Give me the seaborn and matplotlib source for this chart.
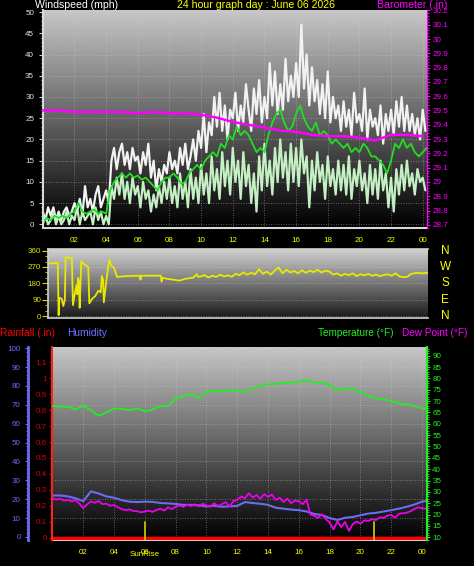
import numpy as np
import seaborn as sns
import matplotlib.pyplot as plt
from matplotlib.ticker import MultipleLocator, FormatStrFormatter

sns.set_style("ticks", {"axes.facecolor": "black", "figure.facecolor": "black"})
plt.rcParams['font.family'] = ['Liberation Sans', 'DejaVu Sans']

# ---------------- data ----------------
hour_labels = ['02', '04', '06', '08', '10', '12', '14', '16', '18', '20', '22', '00']
hour_ticks = [2, 4, 6, 8, 10, 12, 14, 16, 18, 20, 22, 24]

# wind gust (mph), every 10 min
gust = [3, 1, 4, 2, 4, 1,  3, 1, 3, 4, 2, 3,  5, 3, 6, 2, 9, 4,  6, 3, 7, 9, 4, 6,
        8, 5, 15, 18, 13, 17,  19, 14, 17, 13, 18, 15,  16, 12, 17, 14, 19, 11,
        15, 8, 13, 10, 14, 12,  17, 13, 15, 12, 18, 14,  19, 13, 16, 20, 15, 22,
        18, 26, 17, 24, 21, 30,  23, 31, 22, 28, 20, 27,  25, 31, 22, 28, 24, 33,
        27, 22, 32, 26, 34, 24,  30, 25, 38, 28, 36, 26,  33, 27, 39, 29, 35, 30,
        38, 30, 47, 32, 40, 28,  37, 29, 34, 26, 33, 25,  36, 24, 30, 25, 28, 22,
        29, 23, 27, 21, 31, 24,  26, 22, 32, 20, 27, 23,  25, 21, 28, 19, 26, 22,
        27, 21, 29, 23, 30, 22,  28, 22, 26, 21, 25, 20,  27, 22]

# wind speed (mph), every 10 min
speed = [0, 2, 0, 1, 3, 0,  2, 0, 1, 3, 0, 2,  1, 4, 0, 3, 1, 2,  3, 0, 4, 1, 3, 0,
         2, 0, 9, 6, 11, 7,  12, 6, 10, 5, 11, 7,  9, 4, 10, 6, 8, 3,
         7, 4, 9, 5, 10, 6,  11, 5, 9, 4, 12, 6,  10, 4, 13, 6, 11, 5,
         14, 7, 12, 5, 16, 8,  13, 6, 17, 9, 15, 7,  18, 10, 15, 6, 17, 9,
         14, 5, 12, 3, 16, 8,  19, 9, 15, 7, 18, 10,  20, 11, 17, 8, 19, 10,
         18, 9, 20, 12, 16, 4,  15, 8, 17, 10, 14, 6,  16, 9, 13, 7, 15, 8,
         14, 7, 16, 6, 13, 9,  15, 8, 12, 5, 14, 7,  13, 6, 15, 8, 12, 4,
         11, 3, 13, 7, 14, 8,  15, 9, 12, 7, 13, 10,  11, 8]

# average wind speed (mph), every 15 min
avg_speed = [0.5, 1.5, 1, 2,  1.5, 2, 1.5, 2.5,  3, 5, 3, 2.5,  3, 3.5, 2.5, 3,
             2.5, 8, 10, 11,  12, 11, 12, 11,  11.5, 10.5, 11, 10,  9, 8, 10, 11,
             11, 12, 11, 9.5,  10, 12, 13, 14,  13, 15, 16, 17,  16, 19, 18, 21,
             20, 23, 21, 22,  21, 19, 17, 18,  17, 21, 24, 26,  27, 24, 22, 23,
             26, 28, 25, 23,  22, 24, 21, 22,  21, 19, 20, 19,  18, 19, 17, 18,
             17, 19, 18, 16,  16, 15, 14, 12,  15, 19, 18, 20,  18, 19, 17, 16,  17, 18]

# barometer (in), hourly
baro = [29.50, 29.50, 29.49, 29.49, 29.49, 29.49, 29.48, 29.49, 29.48, 29.48,
        29.47, 29.45, 29.42, 29.40, 29.38, 29.36, 29.35, 29.33, 29.32, 29.32,
        29.31, 29.29, 29.33, 29.33, 29.32]

# wind direction (deg)
dir_hours = [0.0, 0.6, 0.65, 0.7, 0.85, 0.95, 1.05, 1.1, 1.5, 1.57, 1.7, 1.8, 1.85,
             1.9, 1.95, 2.0, 2.1, 2.3, 2.55, 2.62, 2.8, 3.0, 3.2, 3.35, 3.42, 3.5,
             3.55, 3.7, 3.9, 4.05, 4.2, 4.4, 5.0, 5.85, 5.9, 5.95, 7.2, 7.25, 7.3,
             7.6, 8.0, 8.4, 8.8, 9.3, 9.5, 9.6,
             9.75, 10.0, 10.25, 10.5, 10.75, 11.0, 11.25, 11.5, 11.75, 12.0, 12.25,
             12.5, 12.75, 13.0, 13.25, 13.5, 13.75, 14.0, 14.25, 14.5, 14.75, 15.0,
             15.25, 15.5, 15.75, 16.0, 16.25, 16.5, 16.75, 17.0, 17.25, 17.5, 17.75,
             18.0, 18.25, 18.5, 18.75, 19.0, 19.25, 19.5, 19.75, 20.0, 20.25, 20.5,
             20.75, 21.0, 21.25, 21.5, 21.75, 22.0, 22.25, 22.5, 22.75, 23.0, 23.25,
             23.5, 23.75, 24.0, 24.3]
dir_deg = [290, 292, 5, 100, 95, 55, 90, 325, 318, 60, 130, 170, 120,
           210, 190, 45, 300, 285, 270, 70, 95, 110, 140, 130, 220, 200,
           75, 190, 310, 275, 265, 215, 220, 222, 200, 222, 222, 190, 210,
           205, 200, 195, 205, 212, 230, 215,
           218, 225, 212, 222, 215, 228, 218, 224, 216, 232, 225,
           240, 228, 238, 230, 258, 232, 245, 228, 250, 268, 235,
           255, 240, 248, 236, 252, 238, 250, 242, 255, 240, 250,
           245, 228, 235, 222, 232, 225, 235, 220, 230, 224, 232,
           222, 228, 220, 226, 230, 222, 235, 218, 214, 216, 232,
           236, 238, 235, 238]
compass = ['N', 'W', 'S', 'E', 'N']
compass_deg = [360, 270, 180, 90, 0]

# temperature (F) and humidity (%), every 30 min
temp = [67.8, 67.5, 67.5, 66.4, 68.0, 66.0, 63.5, 65.0, 66.8, 66.5,
        66.0, 66.8, 65.5, 66.3, 67.8, 68.0, 71.0, 72.5, 73.0, 71.5,
        74.0, 74.2, 74.5, 74.8, 74.5, 74.0, 75.5, 76.5, 77.5, 77.6,
        78.0, 78.2, 78.5, 79.2, 78.3, 78.0, 77.2, 74.6, 75.6, 75.3,
        73.8, 72.3, 71.2, 70.7, 70.0, 69.0, 68.5, 67.8, 66.9, 66.5]
humidity = [22, 22, 21.5, 20.5, 19, 24.2, 23.0, 21.5, 20.8, 19.5,
            18.7, 18.5, 18.7, 18.6, 18.0, 17.8, 17.5, 17.0, 17.0, 16.8,
            16.2, 16.5, 16.0, 16.2, 16.5, 18.5, 18.0, 17.6, 17.0, 15.5,
            15.0, 14.5, 14.2, 13.5, 12.2, 11.6, 10.0, 9.0, 10.2, 10.6,
            11.5, 12.4, 12.8, 13.5, 14.2, 15.0, 16.0, 17.2, 18.7, 19.5]

# dew point (F), every 15 min
dew = [27.2, 26.6, 27.0, 26.2,  26.5, 25.8, 26.4, 24.8,  22.8, 24.5, 25.8, 25.2,
       26.0, 24.6, 24.8, 23.9,  24.2, 23.2, 22.4, 22.0,  22.3, 21.6, 21.5, 21.0,
       21.4, 21.7, 21.2, 22.0,  22.6, 21.8, 23.2, 22.4,  23.5, 24.0, 23.4, 24.3,
       23.8, 24.5, 23.6, 24.8,  24.0, 23.5, 25.0, 23.8,  24.6, 25.5, 23.6, 26.0,
       26.5, 28.0, 27.2, 29.4,  27.5, 28.6, 27.0, 29.0,  27.8, 28.8, 26.4, 27.5,
       25.5, 27.0, 25.0, 26.2,  25.8, 24.6, 26.5, 20.0,  19.5, 18.5, 20.2, 18.0,
       16.5, 13.5, 17.0, 14.5,  16.8, 12.8, 15.8, 17.0,  16.0, 17.5, 17.2, 18.0,
       17.6, 18.8, 18.5, 19.6,  19.8, 18.6, 20.4, 20.6,  20.8, 21.5, 22.5, 23.2,
       22.8, 22.6]

# rainfall (in)
rain_hours = [0, 24.3]
rain = [0.0, 0.0]

sunrise = 6.0
sunset = 20.9

# sample times
t10 = np.arange(len(gust)) / 6
t15 = np.arange(len(avg_speed)) / 4
t60 = np.arange(len(baro))
t30 = np.arange(len(temp)) / 2
t15d = np.arange(len(dew)) / 4

W, H = 474, 566
fig = plt.figure(figsize=(W / 100, H / 100), dpi=100, facecolor='black')


def shade(ax, top, bottom):
    # grey gradient background of each panel
    grad = np.linspace(top, bottom, 256).reshape(-1, 1)
    ax.imshow(grad, extent=[0, 1, 0, 1], transform=ax.transAxes, aspect='auto',
              cmap='gray', vmin=0, vmax=1, zorder=0, interpolation='bilinear')


def only_spines(ax, keep):
    for name, sp in ax.spines.items():
        sp.set_visible(name in keep)


grid_kw = dict(color='#d0d0d0', linestyle=(0, (1, 2)), linewidth=0.6, alpha=0.55)
tick_size = 5.8

# ---------------- wind speed / barometer ----------------
ax1 = fig.add_axes([42.5 / W, 1 - 227.7 / H, 384.5 / W, 217.7 / H])
shade(ax1, 0.78, 0.0)
sns.lineplot(x=t10, y=gust, ax=ax1, color='#f2f2f2', linewidth=1.6, estimator=None)
sns.lineplot(x=t10, y=speed, ax=ax1, color='#c4f0c4', linewidth=1.6, estimator=None)
sns.lineplot(x=t15, y=avg_speed, ax=ax1, color='#22dd22', linewidth=1.3, estimator=None)
ax1.set_xlim(-0.02, 24.27)
ax1.set_ylim(-0.8, 50.5)
ax1.set_xticks(hour_ticks)
ax1.set_xticklabels(hour_labels)
ax1.yaxis.set_major_locator(MultipleLocator(5))
ax1.yaxis.set_minor_locator(MultipleLocator(1))
ax1.tick_params(axis='x', length=0, pad=6.5, labelcolor='#ffff00', labelsize=tick_size)
ax1.tick_params(axis='y', which='major', length=3, pad=3, color='#d0d0d0',
                labelcolor='#dde6ff', labelsize=tick_size)
ax1.tick_params(axis='y', which='minor', length=1.8, color='#d0d0d0')
ax1.grid(True, **grid_kw)
ax1.set_xlabel('')
ax1.set_ylabel('')
only_spines(ax1, ['left', 'bottom'])
for s in ['left', 'bottom']:
    ax1.spines[s].set_color('#d8d8d8')
    ax1.spines[s].set_linewidth(1.5)

ax1b = ax1.twinx()
sns.lineplot(x=t60, y=baro, ax=ax1b, color='#ff00ff', linewidth=1.8)
ax1b.set_ylim(28.68, 30.203)
ax1b.yaxis.set_major_locator(MultipleLocator(0.1))
ax1b.yaxis.set_minor_locator(MultipleLocator(0.02))
ax1b.yaxis.set_major_formatter(FormatStrFormatter('%g'))
ax1b.tick_params(axis='y', which='major', length=2.5, pad=1.5, color='#ff00ff',
                 labelcolor='#ff00ff', labelsize=tick_size)
ax1b.tick_params(axis='y', which='minor', length=1.5, color='#ff00ff')
ax1b.set_ylabel('')
only_spines(ax1b, ['right'])
ax1b.spines['right'].set_color('#ff00ff')
ax1b.spines['right'].set_linestyle((0, (1, 1)))

fig.text(35 / W, 1 - 4.5 / H, 'Windspeed (mph)', color='white', fontsize=7.6, va='center')
fig.text(256 / W, 1 - 4.5 / H, '24 hour graph day : June 06 2026', color='#ffff00',
         fontsize=7.6, va='center', ha='center')
fig.text(412 / W, 1 - 4.5 / H, 'Barometer (.in)', color='#ff00ff', fontsize=7.6,
         va='center', ha='center')

# ---------------- wind direction ----------------
ax2 = fig.add_axes([48 / W, 1 - 318 / H, 380 / W, 69 / H])
shade(ax2, 0.82, 0.1)
sns.lineplot(x=dir_hours, y=dir_deg, ax=ax2, color='#e8e800', linewidth=1.3,
             estimator=None, sort=False)
ax2.set_xlim(-0.03, 24.33)
ax2.set_ylim(-11, 369)
ax2.set_yticks([0, 90, 180, 270, 360])
ax2.yaxis.set_minor_locator(MultipleLocator(30))
ax2.tick_params(axis='x', bottom=False, labelbottom=False)
ax2.tick_params(axis='y', which='major', length=4, pad=1, color='#d8d800',
                labelcolor='#e0e000', labelsize=tick_size)
ax2.tick_params(axis='y', which='minor', length=2.5, color='#d8d800')
ax2.grid(True, axis='y', **grid_kw)
ax2.set_xlabel('')
ax2.set_ylabel('')
only_spines(ax2, ['left', 'bottom', 'top'])
for s in ['left', 'bottom', 'top']:
    ax2.spines[s].set_color('#d0d0d0')
    ax2.spines[s].set_linewidth(1.2)
for lab, deg in zip(compass, compass_deg):
    ax2.text(1.045, deg, lab, transform=ax2.get_yaxis_transform(), color='#ffff00',
             fontsize=8.5, ha='center', va='center')

# ---------------- rain / humidity / temperature ----------------
ax3 = fig.add_axes([52 / W, 1 - 540 / H, 374.7 / W, 193.3 / H])
shade(ax3, 0.78, 0.0)
sns.lineplot(x=t30, y=humidity, ax=ax3, color='#6c6cf0', linewidth=1.5)
ax3.set_xlim(-0.03, 24.3)
ax3.set_ylim(-1.6, 100.8)
ax3.set_xticks(hour_ticks)
ax3.set_xticklabels(hour_labels)
ax3.yaxis.set_major_locator(MultipleLocator(10))
ax3.yaxis.set_minor_locator(MultipleLocator(2))
ax3.tick_params(axis='x', length=0, pad=6.5, labelcolor='#ffff00', labelsize=tick_size)
ax3.tick_params(axis='y', which='major', length=2.5, pad=3, color='#6c6cf0',
                labelcolor='#6c6cff', labelsize=tick_size)
ax3.tick_params(axis='y', which='minor', length=1.5, color='#6c6cf0')
ax3.grid(True, **grid_kw)
ax3.set_xlabel('')
ax3.set_ylabel('')
only_spines(ax3, ['left', 'bottom'])
ax3.spines['left'].set_position(('outward', 17))
ax3.spines['left'].set_color('#6c6cf0')
ax3.spines['left'].set_linewidth(2)
ax3.spines['bottom'].set_color('#d0d0d0')
ax3.spines['bottom'].set_linewidth(1.5)

ax3r = ax3.twinx()
ax3r.yaxis.tick_left()
sns.lineplot(x=rain_hours, y=rain, ax=ax3r, color='#ff0000', linewidth=2.5)
for h in [sunrise, sunset]:
    ax3r.axvline(h, ymin=0, ymax=0.095, color='#c8c000', linewidth=1.3)
ax3r.text(sunrise, -0.075, 'SunRise', transform=ax3r.get_xaxis_transform(),
          color='#ffff00', fontsize=tick_size, ha='center', va='center')
ax3r.set_ylim(-0.0144, 1.1975)
ax3r.yaxis.set_major_locator(MultipleLocator(0.1))
ax3r.yaxis.set_minor_locator(MultipleLocator(0.05))
ax3r.yaxis.set_major_formatter(FormatStrFormatter('%g'))
ax3r.tick_params(axis='y', which='major', length=2.5, pad=1, color='#e00000',
                 labelcolor='#e00000', labelsize=tick_size)
ax3r.tick_params(axis='y', which='minor', length=1.5, color='#e00000')
ax3r.set_ylabel('')
only_spines(ax3r, ['left'])
ax3r.spines['left'].set_color('#ff2020')
ax3r.spines['left'].set_linestyle((0, (1, 1)))
ax3r.spines['left'].set_linewidth(1.5)

ax3t = ax3.twinx()
sns.lineplot(x=t30, y=temp, ax=ax3t, color='#22ee22', linewidth=1.3)
sns.lineplot(x=t15d, y=dew, ax=ax3t, color='#ee00ee', linewidth=1.3)
ax3t.set_ylim(8.81, 93.96)
ax3t.yaxis.set_major_locator(MultipleLocator(5))
ax3t.yaxis.set_minor_locator(MultipleLocator(1))
ax3t.tick_params(axis='y', which='major', length=2.5, pad=1.5, color='#22ee22',
                 labelcolor='#22ee22', labelsize=tick_size)
ax3t.tick_params(axis='y', which='minor', length=1.5, color='#22ee22')
ax3t.set_ylabel('')
only_spines(ax3t, ['right'])
ax3t.spines['right'].set_color('#22ee22')
ax3t.spines['right'].set_linewidth(1.5)

fig.text(0 / W, 1 - 333 / H, 'Rainfall (.in)', color='#ff0000', fontsize=7.4, va='center')
fig.text(67 / W, 1 - 333 / H, 'Humidity', color='#7070ff', fontsize=7.4, va='center')
fig.text(318 / W, 1 - 333 / H, 'Temperature (°F)', color='#22ee22', fontsize=7.2, va='center')
fig.text(402 / W, 1 - 333 / H, 'Dew Point (°F)', color='#ff00ff', fontsize=7.2, va='center')

fig.savefig('out.png', dpi=100, facecolor='black')
